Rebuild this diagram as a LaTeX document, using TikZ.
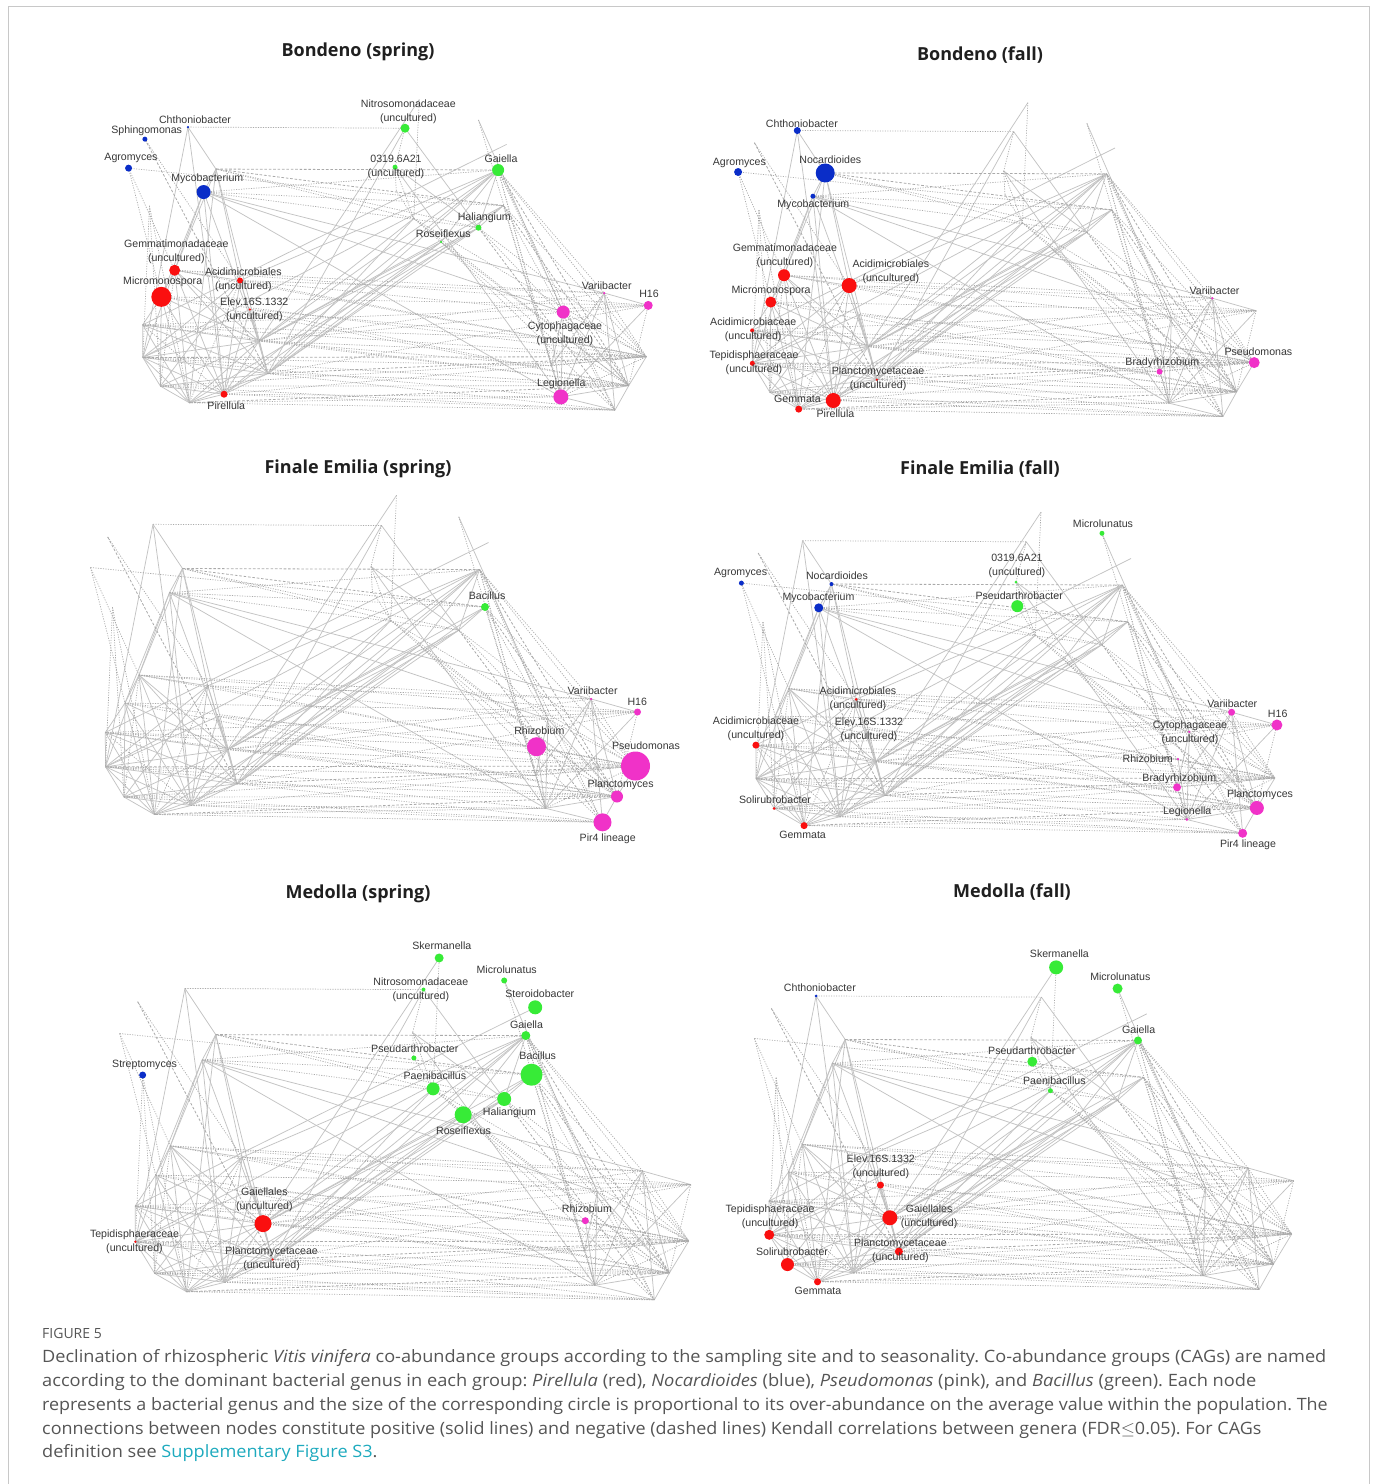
\documentclass[tikz,border=0pt]{standalone}
\usepackage{fontspec}
\setmainfont{Liberation Sans}
\newfontfamily\capfont{Open Sans}
\usepackage{graphicx}
\frenchspacing

\definecolor{cred}{RGB}{250,15,15}
\definecolor{cblue}{RGB}{10,45,200}
\definecolor{cgreen}{RGB}{55,235,55}
\definecolor{cpink}{RGB}{240,50,200}
\definecolor{edgec}{RGB}{195,195,195}
\definecolor{dotc}{RGB}{170,170,170}
\definecolor{labc}{RGB}{55,55,55}
\definecolor{capc}{RGB}{85,85,85}
\definecolor{linkc}{RGB}{30,170,190}
\definecolor{framec}{RGB}{200,200,200}

\def\vertlist{A/153/524.3, B/381.5/525.5, C/396.5/495.3, D/458.8/516.8, E/488.5/542.5, F/182.5/568.5, G/371/566.5, H/479.5/569.5, I/90.5/567.5, J/107.7/537, K/169.5/592.7, Bac/485/607, L/390.7/620.5, M/458.8/630.2, RF/419.5/645.3, PA/372.3/591, SM/112.5/607.3, N/139/675, O/207.8/685.8, P/125/703, AA/218.3/716.3, Q/105.3/732.5, R/227.8/749.5, S/105.5/766.8, T/237/783.8, U/124/797, W/191/805.5, X/154.5/814.5, Y/545.5/808.3, Z/548/719, BR/535.5/775.5, Rh/536.5/746.7, Va/591.2/699, Hs/637.5/712, Ps/635.5/766, Pl/617/796.5, Pf/602.5/822.3}

\def\poslist{A/F, A/W, A/S, F/N, F/T, F/X, F/K, F/O, K/P, K/N, K/W, K/Va, K/Z, K/Y, K/R, N/O, N/P, N/S, N/R, N/T, N/W, N/X, O/R, O/T, O/S, O/U, O/W, P/Q, P/U, P/R, P/X, P/W, Q/S, Q/R, Q/T, Q/X, S/U, S/X, S/R, S/T, S/W, U/X, U/W, U/R, U/T, X/W, X/T, X/R, W/T, W/R, R/T, AA/W, AA/T, AA/S, R/H, R/Bac, R/M, R/RF, R/L, T/H, T/Bac, T/M, T/RF, T/L, S/H, O/H, W/RF, X/M, W/H, C/R, B/T, B/M, D/Z, E/Q, G/M, G/Y, H/M, H/RF, Bac/M, Va/Y, Va/Pl, Va/Pf, Va/Hs, Va/BR, Hs/Y, Z/Y, Z/BR, Y/Pl, Y/Pf, Pl/Pf, Pl/Ps, Rh/Y, Z/Pl}

\def\neglist{A/B, I/Bac, I/N, I/P, J/O, SM/S, SM/U, SM/X, F/M, F/L, K/Bac, K/M, K/H, B/G, G/L, G/PA, C/L, PA/L, H/Va, H/Ps, H/Pf, H/Y, H/Z, H/BR, Bac/Ps, Bac/Pf, Bac/Y, M/Ps, M/Pl, L/Rh, L/Ps, L/Pl, RF/Pl, RF/Pf, D/Y, N/Va, N/Hs, O/Z, O/Va, P/Hs, P/Ps, Q/Rh, Q/Ps, Q/Hs, S/Pl, S/BR, S/Y, U/Pf, U/Pl, U/Ps, X/Pf, X/Y, W/Ps, W/Y, W/Pf, T/Pl, T/Hs, R/Va, R/Z, R/Ps, R/Pl, AA/Rh, AA/Pl, O/Ps, N/Ps, T/Pf, R/BR, Q/Pl, P/Pl, N/U, Q/W, O/X, Rh/Ps, BR/Ps, Hs/Pl, Va/Ps, Z/Ps, Z/Hs, Y/Ps, Rh/Pl}

\def\dashlist{F/Bac, F/H, J/T, H/Pl, Bac/Pl, M/Pf, S/Ps, X/Pl, T/Ps}

\newcommand\drawnet[1]{%
  \foreach \vn/\vx/\vy in \vertlist {\coordinate (#1-\vn) at (\vx,\vy);}
  \foreach \ea/\eb in \poslist {\draw[posedge] (#1-\ea) -- (#1-\eb);}
  \foreach \ea/\eb in \neglist {\draw[negedge] (#1-\ea) -- (#1-\eb);}
  \foreach \ea/\eb in \dashlist {\draw[negdash] (#1-\ea) -- (#1-\eb);}
}

\newcommand\netpanel[6]{%
  \begin{scope}[shift={(#2,#3)}, xscale=#4, yscale=#5]
    \drawnet{#1}
  \end{scope}
  \foreach \nv/\nc/\nd in {#6} {\node[dotn, fill=\nc, minimum size=\nd pt] (#1-n\nv) at (#1-\nv) {};}
}

\begin{document}
\begin{tikzpicture}[x=1pt,y=-1pt,
  posedge/.style={draw=edgec, line width=0.75pt},
  negedge/.style={draw=dotc, line width=0.7pt, dash pattern=on 1.1pt off 1.4pt},
  negdash/.style={draw=dotc, line width=0.8pt, dash pattern=on 2.6pt off 1.8pt},
  dotn/.style={circle, inner sep=0pt, draw=none},
  lab/.style={font=\fontsize{10.6}{14}\selectfont, text=labc, inner sep=0pt, align=center},
  ttl/.style={font=\capfont\bfseries\fontsize{18}{22}\selectfont, text=black!88, inner sep=0pt},
  capst/.style={font=\capfont\fontsize{17}{20}\selectfont, text=capc, inner sep=0pt, anchor=base west}]

\useasboundingbox (0,0) rectangle (1375,1484);
\draw[framec, line width=1pt] (8.5,1484) -- (8.5,6.5) -- (1369.5,6.5) -- (1369.5,1484);

% ---------- Bondeno (spring)
\netpanel{bs}{42.6}{-371}{0.95}{0.95}{A/cblue/2.5, J/cblue/5, I/cblue/7, K/cblue/14, B/cgreen/9, G/cgreen/5, H/cgreen/12, M/cgreen/6, RF/cgreen/2.5, N/cred/11, P/cred/20, O/cred/6, AA/cred/2.5, W/cred/7, Va/cpink/2.5, Hs/cpink/9, Z/cpink/13, Y/cpink/15}
% ---------- Bondeno (fall)
\netpanel{bf}{652.4}{-372.8}{0.947}{0.96}{A/cblue/7, I/cblue/8, F/cblue/19, K/cblue/5, N/cred/12, O/cred/15, P/cred/11, Q/cred/4, S/cred/5, T/cred/2.5, W/cred/15, X/cred/7, Va/cpink/2.5, BR/cpink/6, Ps/cpink/11}
% ---------- Finale Emilia (spring)
\netpanel{fs}{0}{0}{1}{1}{Bac/cgreen/8, Va/cpink/2.5, Hs/cpink/7, Rh/cpink/19, Ps/cpink/29, Pl/cpink/12, Pf/cpink/18}
% ---------- Finale Emilia (fall)
\netpanel{ff}{652.8}{25.8}{0.979}{0.982}{D/cgreen/5, G/cgreen/3, PA/cgreen/12, I/cblue/5, F/cblue/4, K/cblue/9, O/cred/3, Q/cred/7, U/cred/3, X/cred/7, Va/cpink/7, Hs/cpink/11, Z/cpink/2.5, Rh/cpink/2.5, BR/cpink/8, Pl/cpink/14, Y/cpink/3, Pf/cpink/9}
% ---------- Medolla (spring)
\netpanel{ms}{25.2}{440.4}{1.044}{1.045}{C/cgreen/9, D/cgreen/6, B/cgreen/4, E/cgreen/14, H/cgreen/9, PA/cgreen/5, Bac/cgreen/22, L/cgreen/13, M/cgreen/14, RF/cgreen/17, SM/cblue/7, R/cred/17, S/cred/2.5, T/cred/2.5, Rh/cpink/7}
% ---------- Medolla (fall)
\netpanel{mf}{665.2}{479.5}{0.986}{0.985}{C/cgreen/14, D/cgreen/10, H/cgreen/8, PA/cgreen/10, L/cgreen/5, A/cblue/3, AA/cred/7, R/cred/15, S/cred/10, U/cred/13, T/cred/8, X/cred/7}

% ---------- titles
\node[ttl] (t1) at (358,52) {Bondeno (spring)};
\node[ttl] (t2) at (980,55) {Bondeno (fall)};
\node[ttl] (t3) at (358,469) {Finale Emilia (spring)};
\node[ttl] (t4) at (980,469) {Finale Emilia (fall)};
\node[ttl] (t5) at (358,894) {Medolla (spring)};
\node[ttl] (t6) at (1012,892) {Medolla (fall)};

% ---------- labels BS
\node[lab] (bs-l1) at (195,120) {Chthoniobacter};
\node[lab] (bs-l2) at (146.7,131) {Sphingomonas};
\node[lab] (bs-l3) at (131,158.3) {Agromyces};
\node[lab] (bs-l4) at (207.3,178.7) {Mycobacterium};
\node[lab] (bs-l5) at (408.3,112) {Nitrosomonadaceae\\(uncultured)};
\node[lab] (bs-l6) at (396,167) {0319.6A21\\(uncultured)};
\node[lab] (bs-l7) at (501,158.3) {Gaiella};
\node[lab] (bs-l8) at (484.3,218) {Haliangium};
\node[lab] (bs-l9) at (443.3,234) {Roseiflexus};
\node[lab] (bs-l10) at (176.3,251.3) {Gemmatimonadaceae\\(uncultured)};
\node[lab] (bs-l11) at (162.7,281.3) {Micromonospora};
\node[lab] (bs-l12) at (243.3,280) {Acidimicrobiales\\(uncultured)};
\node[lab] (bs-l13) at (254.3,309.3) {Elev.16S.1332\\(uncultured)};
\node[lab] (bs-l14) at (226.3,405.3) {Pirellula};
\node[lab] (bs-l15) at (606.7,285.7) {Variibacter};
\node[lab] (bs-l16) at (649,293.7) {H16};
\node[lab] (bs-l17) at (565,333.3) {Cytophagaceae\\(uncultured)};
\node[lab] (bs-l18) at (561.3,383.3) {Legionella};

% ---------- labels BF
\node[lab] (bf-l1) at (801.9,124) {Chthoniobacter};
\node[lab] (bf-l2) at (739.4,163.3) {Agromyces};
\node[lab] (bf-l3) at (830.3,159.3) {Nocardioides};
\node[lab] (bf-l4) at (813.3,204.3) {Mycobacterium};
\node[lab] (bf-l5) at (784.9,255.5) {Gemmatimonadaceae\\(uncultured)};
\node[lab] (bf-l6) at (890.8,272.2) {Acidimicrobiales\\(uncultured)};
\node[lab] (bf-l7) at (771,290.7) {Micromonospora};
\node[lab] (bf-l8) at (753.2,329.5) {Acidimicrobiaceae\\(uncultured)};
\node[lab] (bf-l9) at (754,362.7) {Tepidisphaeraceae\\(uncultured)};
\node[lab] (bf-l10) at (878.1,378.5) {Planctomycetaceae\\(uncultured)};
\node[lab] (bf-l11) at (797.5,399) {Gemmata};
\node[lab] (bf-l12) at (835.5,413.3) {Pirellula};
\node[lab] (bf-l13) at (1214.5,291) {Variibacter};
\node[lab] (bf-l14) at (1162.3,362.3) {Bradyrhizobium};
\node[lab] (bf-l15) at (1258.4,351.7) {Pseudomonas};

% ---------- labels FES
\node[lab] (fs-l1) at (487.1,596) {Bacillus};
\node[lab] (fs-l2) at (592.6,691) {Variibacter};
\node[lab] (fs-l3) at (637.3,701.7) {H16};
\node[lab] (fs-l4) at (539.3,730.7) {Rhizobium};
\node[lab] (fs-l5) at (646,745.3) {Pseudomonas};
\node[lab] (fs-l6) at (620.7,785) {Planctomyces};
\node[lab] (fs-l7) at (607.7,839) {Pir4 lineage};

% ---------- labels FEF
\node[lab] (ff-l1) at (1103,523.3) {Microlunatus};
\node[lab] (ff-l2) at (1016.9,565.5) {0319.6A21\\(uncultured)};
\node[lab] (ff-l3) at (740.6,573.3) {Agromyces};
\node[lab] (ff-l4) at (837,575.3) {Nocardioides};
\node[lab] (ff-l5) at (818.5,597.3) {Mycobacterium};
\node[lab] (ff-l6) at (1019.2,595.3) {Pseudarthrobacter};
\node[lab] (ff-l7) at (858,699.2) {Acidimicrobiales\\(uncultured)};
\node[lab] (ff-l8) at (756,728.5) {Acidimicrobiaceae\\(uncultured)};
\node[lab] (ff-l9) at (869,729.3) {Elev.16S.1332\\(uncultured)};
\node[lab] (ff-l10) at (1232.3,703.3) {Variibacter};
\node[lab] (ff-l11) at (1277.7,714) {H16};
\node[lab] (ff-l12) at (1190,732.7) {Cytophagaceae\\(uncultured)};
\node[lab] (ff-l13) at (1147.7,758.7) {Rhizobium};
\node[lab] (ff-l14) at (1179.3,778.3) {Bradyrhizobium};
\node[lab] (ff-l15) at (1260,794.7) {Planctomyces};
\node[lab] (ff-l16) at (1187.2,811.7) {Legionella};
\node[lab] (ff-l17) at (1248,845) {Pir4 lineage};
\node[lab] (ff-l18) at (775,800) {Solirubrobacter};
\node[lab] (ff-l19) at (802.6,835) {Gemmata};

% ---------- labels MS
\node[lab] (ms-l1) at (441.8,946) {Skermanella};
\node[lab] (ms-l2) at (506.7,969.3) {Microlunatus};
\node[lab] (ms-l3) at (420.8,990.2) {Nitrosomonadaceae\\(uncultured)};
\node[lab] (ms-l4) at (539.8,993.7) {Steroidobacter};
\node[lab] (ms-l5) at (526.5,1024.7) {Gaiella};
\node[lab] (ms-l6) at (414.8,1048.3) {Pseudarthrobacter};
\node[lab] (ms-l7) at (144.6,1064.7) {Streptomyces};
\node[lab] (ms-l8) at (537.7,1056) {Bacillus};
\node[lab] (ms-l9) at (434.9,1075.3) {Paenibacillus};
\node[lab] (ms-l10) at (509.5,1112.7) {Haliangium};
\node[lab] (ms-l11) at (463.5,1131) {Roseiflexus};
\node[lab] (ms-l12) at (264.4,1199.3) {Gaiellales\\(uncultured)};
\node[lab] (ms-l13) at (134.5,1241.8) {Tepidisphaeraceae\\(uncultured)};
\node[lab] (ms-l14) at (271.6,1258.5) {Planctomycetaceae\\(uncultured)};
\node[lab] (ms-l15) at (586.9,1209) {Rhizobium};

% ---------- labels MF
\node[lab] (mf-l1) at (1059.4,954) {Skermanella};
\node[lab] (mf-l2) at (1120.3,976.7) {Microlunatus};
\node[lab] (mf-l3) at (819.9,987.3) {Chthoniobacter};
\node[lab] (mf-l4) at (1138.7,1030) {Gaiella};
\node[lab] (mf-l5) at (1031.8,1051) {Pseudarthrobacter};
\node[lab] (mf-l6) at (1054.4,1080.7) {Paenibacillus};
\node[lab] (mf-l7) at (880.8,1167.2) {Elev.16S.1332\\(uncultured)};
\node[lab] (mf-l8) at (929.1,1217) {Gaiellales\\(uncultured)};
\node[lab] (mf-l9) at (770.1,1216.3) {Tepidisphaeraceae\\(uncultured)};
\node[lab] (mf-l10) at (792,1251.7) {Solirubrobacter};
\node[lab] (mf-l11) at (900.4,1250.5) {Planctomycetaceae\\(uncultured)};
\node[lab] (mf-l12) at (818,1290.7) {Gemmata};

% ---------- caption
\node[font=\capfont\fontsize{14}{16}\selectfont, text=capc, inner sep=0pt, anchor=base west] (fig) at (42,1338) {FIGURE 5};
\node[capst] (c1) at (42,1362) {\scalebox{1.067}[1]{Declination of rhizospheric \textit{Vitis vinifera} co-abundance groups according to the sampling site and to seasonality. Co-abundance groups (CAGs) are named}};
\node[capst] (c2) at (42,1386) {\scalebox{1.074}[1]{according to the dominant bacterial genus in each group: \textit{Pirellula} (red), \textit{Nocardioides} (blue), \textit{Pseudomonas} (pink), and \textit{Bacillus} (green). Each node}};
\node[capst] (c3) at (42,1410) {\scalebox{1.055}[1]{represents a bacterial genus and the size of the corresponding circle is proportional to its over-abundance on the average value within the population. The}};
\node[capst] (c4) at (42,1434) {\scalebox{1.057}[1]{connections between nodes constitute positive (solid lines) and negative (dashed lines) Kendall correlations between genera (FDR$\leq$0.05). For CAGs}};
\node[capst] (c5) at (42,1457) {\scalebox{1.067}[1]{definition see \textcolor{linkc}{Supplementary Figure S3}.}};
\end{tikzpicture}
\end{document}
